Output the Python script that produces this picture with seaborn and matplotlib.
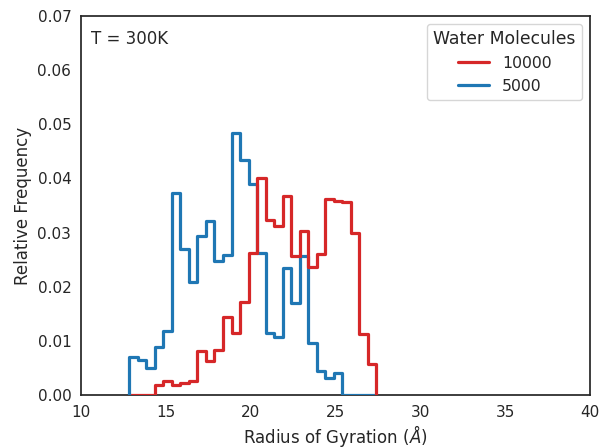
import numpy as np
import pandas as pd
import matplotlib
matplotlib.use("Agg")
import matplotlib.pyplot as plt
import seaborn as sns

# Histogram bins (common to both series)
bin_start = 12.85
bin_end = 27.40
n_bins = 29

# Relative frequency per bin, 5000 water molecules (first 25 bins)
freq_5000 = [0.0070, 0.0065, 0.0049, 0.0088, 0.0119, 0.0374, 0.0269, 0.0209,
             0.0293, 0.0322, 0.0248, 0.0259, 0.0484, 0.0434, 0.0390, 0.0262,
             0.0114, 0.0108, 0.0234, 0.0169, 0.0256, 0.0096, 0.0044, 0.0031,
             0.0041]
# Relative frequency per bin, 10000 water molecules (starting at bin 4)
freq_10000 = [0.0018, 0.0026, 0.0018, 0.0022, 0.0025, 0.0081, 0.0062, 0.0084,
              0.0144, 0.0115, 0.0171, 0.0262, 0.0400, 0.0323, 0.0312, 0.0367,
              0.0257, 0.0302, 0.0237, 0.0260, 0.0362, 0.0359, 0.0356, 0.0299,
              0.0113, 0.0057]
offset_10000 = 3

labels = ["10000", "5000"]
colors = {"10000": "#d62728", "5000": "#1f77b4"}

edges = np.linspace(bin_start, bin_end, n_bins + 1)
centers = (edges[:-1] + edges[1:]) / 2

full = {"5000": np.zeros(n_bins), "10000": np.zeros(n_bins)}
full["5000"][:len(freq_5000)] = freq_5000
full["10000"][offset_10000:offset_10000 + len(freq_10000)] = freq_10000

rows = []
for lab in labels:
    for c, f in zip(centers, full[lab]):
        rows.append({"Rg": c, "w": f, "Water Molecules": lab})
df = pd.DataFrame(rows)

sns.set_style("white")
plt.rcParams['font.family'] = ['DejaVu Sans']
fig = plt.figure(figsize=(6.02, 4.48), dpi=100)
ax = fig.add_axes([0.1346, 0.1183, 0.8454, 0.846])

lw = 2.3
sns.histplot(data=df, x="Rg", weights="w", hue="Water Molecules",
             hue_order=labels, palette=colors, bins=n_bins,
             binrange=(bin_start, bin_end), element="step",
             fill=False, stat="count", linewidth=lw, ax=ax)
for ln in ax.lines:
    ln.set_zorder(3)

# closing vertical edges of the step outlines at both ends
for lab in labels:
    ax.vlines([edges[0], edges[-1]], 0, [full[lab][0], full[lab][-1]],
              color=colors[lab], linewidth=lw, zorder=3)

ax.set_xlim(10, 40)
ax.set_ylim(0, 0.07)
ax.set_yticks(np.arange(0, 0.071, 0.01))
ax.set_yticklabels([f"{v:.2f}" for v in np.arange(0, 0.071, 0.01)])
ax.tick_params(labelsize=11, colors="#262626")
ax.set_xlabel("Radius of Gyration ($\\AA$)", fontsize=12, color="#262626",
              labelpad=2.5)
ax.set_ylabel("Relative Frequency", fontsize=12, color="#262626")
for s in ax.spines.values():
    s.set_color("#262626")
    s.set_linewidth(1.25)

ax.text(0.02, 0.962, "T = 300K", transform=ax.transAxes, fontsize=12,
        va="top", ha="left", color="#262626")

sns.move_legend(ax, "upper right", title="Water Molecules", fontsize=11.3,
                title_fontsize=12.4)

fig.savefig("out.png", dpi=100)
